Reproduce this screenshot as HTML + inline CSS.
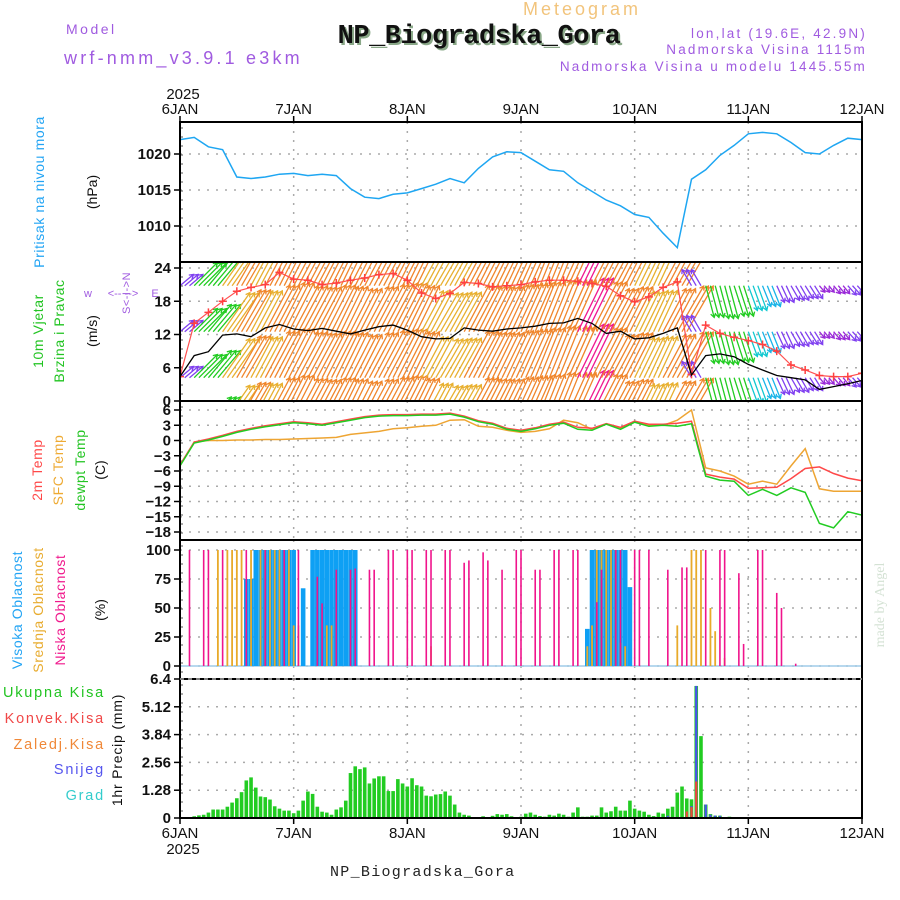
<!DOCTYPE html>
<html><head><meta charset="utf-8">
<style>
html,body{margin:0;padding:0;background:#fff;}
svg{display:block;font-family:"Liberation Sans",sans-serif;}
</style></head>
<body>
<svg id="chart" width="900" height="900" viewBox="0 0 900 900" xmlns="http://www.w3.org/2000/svg">
  <g>
    <text x="582" y="15" font-size="18" fill="#f2c47c" text-anchor="middle" letter-spacing="3">Meteogram</text>
    <text x="481" y="45" font-size="27" font-weight="bold" font-family="Liberation Mono, monospace" fill="#8aa888" text-anchor="middle" letter-spacing="-0.5">NP_Biogradska_Gora</text>
    <text x="479" y="43" font-size="27" font-weight="bold" font-family="Liberation Mono, monospace" fill="#111" text-anchor="middle" letter-spacing="-0.5">NP_Biogradska_Gora</text>
    <text x="66" y="34" font-size="14" fill="#a05be0" letter-spacing="2.5">Model</text>
    <text x="64" y="64" font-size="18" fill="#a05be0" letter-spacing="3.2">wrf-nmm_v3.9.1 e3km</text>
    <text x="867" y="38" font-size="13.5" fill="#a05be0" text-anchor="end" letter-spacing="2.2">lon,lat (19.6E, 42.9N)</text>
    <text x="867" y="54" font-size="13.5" fill="#a05be0" text-anchor="end" letter-spacing="2.2">Nadmorska Visina 1115m</text>
    <text x="867" y="71" font-size="13.5" fill="#a05be0" text-anchor="end" letter-spacing="2.2">Nadmorska Visina u modelu 1445.55m</text>
    <text x="183" y="99" font-size="15" fill="#111" text-anchor="middle">2025</text>
    <text x="330" y="876" font-size="15" font-family="Liberation Mono, monospace" fill="#222" letter-spacing="1.3">NP_Biogradska_Gora</text>
    <text x="183" y="854" font-size="15" fill="#111" text-anchor="middle">2025</text>
    <text transform="translate(884,605) rotate(-90)" font-size="14" font-family="Liberation Serif, serif" fill="#d4e2d4" text-anchor="middle">made by Angel</text>
  </g>
  <g>
    <text transform="translate(44,192) rotate(-90)" font-size="14" fill="#22a4f4" text-anchor="middle" letter-spacing="0.6">Pritisak na nivou mora</text>
    <text transform="translate(97,192) rotate(-90)" font-size="14" fill="#111" text-anchor="middle">(hPa)</text>
    <text transform="translate(43,331) rotate(-90)" font-size="14" fill="#22c422" text-anchor="middle" letter-spacing="0.6">10m Vjetar</text>
    <text transform="translate(64,331) rotate(-90)" font-size="14" fill="#22c422" text-anchor="middle" letter-spacing="0.6">Brzina i Pravac</text>
    <text transform="translate(97,331) rotate(-90)" font-size="14" fill="#111" text-anchor="middle">(m/s)</text>
    <g fill="#a05be0" font-size="11">
      <text x="88" y="297" text-anchor="middle">w</text>
      <text x="155" y="297" text-anchor="middle">E</text>
      <text transform="translate(127,293) rotate(-90)" text-anchor="middle" dominant-baseline="middle" letter-spacing="0.5">S&lt;-I-&gt;N</text>
      <text x="123" y="297" text-anchor="middle">&lt;-- --&gt;</text>
    </g>
    <text transform="translate(42,470) rotate(-90)" font-size="14" fill="#ff4848" text-anchor="middle" letter-spacing="0.6">2m Temp</text>
    <text transform="translate(63,470) rotate(-90)" font-size="14" fill="#eeaa33" text-anchor="middle" letter-spacing="0.6">SFC Temp</text>
    <text transform="translate(85,470) rotate(-90)" font-size="14" fill="#22c422" text-anchor="middle" letter-spacing="0.6">dewpt Temp</text>
    <text transform="translate(105,470) rotate(-90)" font-size="14" fill="#111" text-anchor="middle">(C)</text>
    <text transform="translate(22,610) rotate(-90)" font-size="14" fill="#22a4f4" text-anchor="middle" letter-spacing="0.6">Visoka Oblacnost</text>
    <text transform="translate(43,610) rotate(-90)" font-size="14" fill="#e8ac30" text-anchor="middle" letter-spacing="0.6">Srednja Oblacnost</text>
    <text transform="translate(65,610) rotate(-90)" font-size="14" fill="#f0188c" text-anchor="middle" letter-spacing="0.6">Niska Oblacnost</text>
    <text transform="translate(105,610) rotate(-90)" font-size="14" fill="#111" text-anchor="middle">(%)</text>
    <text x="105" y="697" font-size="14.5" fill="#22c422" text-anchor="end" letter-spacing="1.8">Ukupna  Kisa</text>
    <text x="105" y="723" font-size="14.5" fill="#f04848" text-anchor="end" letter-spacing="1.8">Konvek.Kisa</text>
    <text x="105" y="749" font-size="14.5" fill="#f08838" text-anchor="end" letter-spacing="1.8">Zaledj.Kisa</text>
    <text x="105" y="774" font-size="14.5" fill="#5555ee" text-anchor="end" letter-spacing="1.8">Snijeg</text>
    <text x="105" y="800" font-size="14.5" fill="#33cccc" text-anchor="end" letter-spacing="1.8">Grad</text>
    <text transform="translate(122,750) rotate(-90)" font-size="14" fill="#111" text-anchor="middle" letter-spacing="0.8">1hr Precip (mm)</text>
  </g>
  <g id="plot"></g>
</svg>
<script>
// ---- data ----
const dayLabels = ["6JAN","7JAN","8JAN","9JAN","10JAN","11JAN","12JAN"];
const pressure = [1022,1022.3,1021,1020.6,1016.8,1016.6,1016.8,1017.2,1017.3,1017.0,1017.2,1017.0,1015.2,1014.0,1013.8,1014.4,1014.6,1015.2,1015.8,1016.6,1016.0,1018.0,1019.6,1020.3,1020.2,1019.0,1017.8,1017.6,1016.0,1014.8,1013.6,1012.8,1011.6,1011.2,1009.0,1007.0,1016.5,1017.8,1019.8,1021.2,1022.8,1023.0,1022.8,1021.6,1020.2,1020.0,1021.2,1022.2,1022.0];
const pressureTicks = [1010,1015,1020];
const windSpeed = [4.4,8.2,8.9,11.9,12.1,11.6,13.2,13.8,13.0,12.7,13.1,12.6,12.1,12.8,13.4,13.7,12.8,11.6,11.2,11.3,13.2,12.8,12.6,13.0,13.2,13.5,14.0,14.1,14.9,14.0,12.2,12.6,11.2,11.4,12.2,13.2,4.7,8.2,8.5,8.0,6.6,5.6,4.6,4.2,3.8,2.1,2.6,3.1,3.7];
const windGust = [4.4,14.0,16.0,18.0,19.8,20.5,21.0,23.2,22.0,21.8,21.0,21.3,21.8,22.2,22.8,23.0,21.8,19.5,18.5,19.4,21.4,21.2,20.6,20.8,21.0,21.5,21.8,21.8,21.6,21.2,20.7,19.0,17.9,18.8,20.5,21.5,4.8,13.7,12.2,11.5,10.9,10.2,9.0,6.5,5.6,4.6,4.4,4.4,5.0];
const windDir = [50,45,40,35,30,28,28,27,28,28,27,26,27,28,28,27,26,28,30,29,28,27,26,25,24,22,22,24,26,27,28,27,26,25,28,30,330,165,165,162,160,158,155,150,148,140,140,138,140];
const windRows = [-4.2,4.2,12.5,20.8];
const windTicks = [0,6,12,18,24];
const temp2m = [-4.8,-0.3,0.3,1.0,1.8,2.4,2.9,3.3,3.7,3.5,3.2,3.7,4.2,4.7,5.0,5.1,5.1,5.2,5.2,5.4,4.8,3.9,3.4,2.4,2.0,2.5,3.2,3.6,2.6,2.4,3.3,2.6,3.8,3.2,3.2,3.4,3.8,-6.6,-7.2,-7.6,-9.4,-9.3,-9.2,-7.5,-5.5,-5.2,-6.5,-7.4,-7.9];
const tempSfc = [-5,-0.3,0,0,0.1,0.1,0.2,0.2,0.3,0.4,0.5,0.6,1.2,1.5,1.8,2.3,2.5,2.8,3.0,4.0,4.1,2.8,2.6,2.0,1.6,1.8,2.3,4.0,3.5,2.2,3.3,2.5,3.8,3.0,3.0,4.0,6.0,-5.4,-6.0,-7.0,-8.6,-8.0,-8.6,-5.0,-1.6,-9.5,-10,-10,-10];
const tempDew = [-5,-0.5,0.1,0.8,1.6,2.2,2.7,3.1,3.5,3.3,3.0,3.5,4.0,4.5,4.8,4.9,4.9,5.0,5.0,5.2,4.6,3.7,3.2,2.2,1.8,2.3,3.0,3.4,2.2,2.0,3.2,2.2,3.6,2.8,3.0,2.8,3.3,-7.0,-7.8,-8.0,-10.8,-9.6,-10.8,-9.3,-10.2,-16.3,-17.2,-14.0,-14.7];
const tempTicks = [6,3,0,-3,-6,-9,-12,-15,-18];
const highHours = [14,15,16,17,18,19,20,21,22,23,24,26,28,29,30,31,32,33,34,35,36,37,86,87,88,89,90,91,92,93,94,95];
const highVals  = [75,75,100,100,100,100,100,100,100,100,100,67,100,100,100,100,100,100,100,100,100,100,32,100,100,100,100,100,100,100,100,68];
const midHours = [8,10,11,12,13,15,17,18,19,20,21,23,24,25,31,32,53,86,87,88,89,90,91,92,93,94,105,108,109,110,112,113,115];
const midVals  = [100,100,100,100,100,100,100,100,100,100,100,100,35,35,35,35,17,17,35,100,100,100,100,100,20,17,35,100,100,100,50,30,7];
const lowHours = [2,5,6,9,14,18,22,25,29,30,33,36,37,40,41,44,45,48,49,52,53,56,57,60,61,64,65,68,71,72,75,76,79,80,83,84,88,89,92,93,96,97,99,103,106,107,111,114,115,118,119,122,123,126,127,130];
const lowVals  = [100,100,100,100,100,100,100,100,77,54,83,83,84,83,83,100,100,100,100,100,100,100,100,89,91,98,91,83,100,100,83,83,100,100,100,100,55,83,100,100,100,100,100,83,85,85,100,100,100,80,19,100,100,63,50,2];
const cloudTicks = [0,25,50,75,100];
const precipTotal = [0,0,0,0.08,0.12,0.15,0.25,0.39,0.39,0.39,0.52,0.71,0.91,1.19,1.73,1.87,1.40,0.99,0.96,0.85,0.54,0.43,0.34,0.34,0.22,0.34,0.80,1.22,1.11,0.52,0.29,0.25,0.15,0.39,0.49,0.80,2.07,2.38,2.25,2.33,1.59,1.82,1.92,1.92,1.24,1.24,1.79,1.59,1.45,1.83,1.51,1.45,1.03,1.0,1.08,1.1,1.22,1.03,0.62,0.25,0.15,0.11,0,0,0.08,0,0.1,0.18,0.15,0.18,0.08,0,0.06,0.2,0.25,0.15,0.09,0.06,0.15,0.11,0.2,0.15,0.06,0.25,0.49,0.06,0.06,0.11,0.11,0.49,0.25,0.31,0.52,0.34,0.34,0.8,0.43,0.34,0.29,0.15,0.09,0.25,0.2,0.43,0.52,1.17,1.45,0.9,0.86,6.08,3.77,0.62,0.18,0.11,0.11,0,0.06,0,0,0,0,0,0,0,0,0,0,0,0,0,0,0,0,0,0,0,0,0,0,0,0,0,0,0];
const snowHours = [103,108,109,111,112,113,114];
const snowVals  = [0.1,0.55,6.08,0.62,0.15,0.11,0.1];
const convHours = [107,108,109,112];
const convVals  = [0.3,0.5,1.68,0.05];
const precipTicks = ["0","1.28","2.56","3.84","5.12","6.4"];

// ---- layout ----
const X0 = 180, X1 = 862, HOURS = 144;
const NS = "http://www.w3.org/2000/svg";
const plot = document.getElementById('plot');
function xh(h){ return X0 + (X1 - X0) * h / HOURS; }
function mk(tag, attrs, parent){
  const e = document.createElementNS(NS, tag);
  for (const k in attrs) e.setAttribute(k, attrs[k]);
  (parent || plot).appendChild(e);
  return e;
}
const panels = {
  pres: {top:122, bottom:262, vTop:1020, yTop:154, vBot:1010, yBot:226},
  wind: {top:262, bottom:401, vTop:24, yTop:268, vBot:0, yBot:401},
  temp: {top:401, bottom:540, vTop:6, yTop:410, vBot:-18, yBot:532},
  cloud:{top:540, bottom:679, vTop:100, yTop:550, vBot:0, yBot:666},
  prec: {top:679, bottom:818, vTop:6.4, yTop:679, vBot:0, yBot:818}
};
function yScale(p){ return v => p.yBot + (v - p.vBot) * (p.yTop - p.yBot) / (p.vTop - p.vBot); }
const yP = yScale(panels.pres), yW = yScale(panels.wind), yT = yScale(panels.temp), yC = yScale(panels.cloud), yR = yScale(panels.prec);

const defs = mk('defs', {});
for (const key in panels){
  const p = panels[key];
  const cp = mk('clipPath', {id:'clip-'+key}, defs);
  mk('rect', {x:X0, y:p.top, width:X1-X0, height:p.bottom-p.top}, cp);
}

function panelAxes(key, ticks, labels, ys){
  const p = panels[key];
  const g = mk('g', {});
  
  
  ticks.forEach((t, i) => {
    const y = ys(t);
    if (y > p.top + 2 && y < p.bottom - 2) {
      const l = mk('line', {x1:X0, x2:X1, y1:y, y2:y, stroke:'#aaa', 'stroke-width':1.5, 'stroke-dasharray':'2,7'}, g);
      
      
    }
    mk('line', {x1:X0-6, x2:X0, y1:y, y2:y, stroke:'#000', 'stroke-width':1.5}, g);
    const tx = mk('text', {x:X0-9, y:y+5, 'font-size':15, 'font-weight':'bold', 'text-anchor':'end', fill:'#111'}, g);
    tx.textContent = labels[i];
    
    
  });
  for (let d = 1; d < 6; d++) {
    mk('line', {x1:xh(d*24), x2:xh(d*24), y1:p.top, y2:p.bottom, stroke:'#aaa', 'stroke-width':1.5, 'stroke-dasharray':'2,7'}, g);
  }
  for (let y = p.top + 6; y < p.bottom; y += 9) mk('line', {x1:X0, x2:X0+3, y1:y, y2:y, stroke:'#555', 'stroke-width':1}, g);
}
panelAxes('pres', pressureTicks, pressureTicks.map(String), yP);
panelAxes('wind', windTicks, windTicks.map(String), yW);
panelAxes('temp', tempTicks, tempTicks.map(t => t < 0 ? '\u2212' + (-t) : String(t)), yT);
panelAxes('cloud', cloudTicks, cloudTicks.map(String), yC);
panelAxes('prec', precipTicks.map(Number), precipTicks, yR);

function linePath(arr, ys, step){ return arr.map((v,i) => (i ? 'L' : 'M') + xh(i*step).toFixed(1) + ',' + ys(v).toFixed(1)).join(''); }
const pl = mk('path', {d:linePath(pressure, yP, 3), fill:'none', stroke:'#1ea6f2', 'stroke-width':1.5, 'clip-path':'url(#clip-pres)'});



function windColor(s){
  if (s < 3) return '#9a2ad8';
  if (s < 5) return '#8040f0';
  if (s < 6.5) return '#18b4e8';
  if (s < 8) return '#10c8d0';
  if (s < 9.5) return '#22cc22';
  if (s < 11) return '#9ad82a';
  if (s < 12) return '#e8b030';
  if (s < 14.5) return '#f0862c';
  return '#f01890';
}
const wg = mk('g', {'clip-path':'url(#clip-wind)'});


for (let h = 0; h <= HOURS; h++) {
  const k = Math.min(Math.floor(h/3), windSpeed.length-1);
  const s = windSpeed[k], a = windDir[k] * Math.PI / 180;
  const len = s * 4;
  const col = windColor(s);
  windRows.forEach(r => {
    const x1 = xh(h), y1 = yW(r);
    const ux = Math.sin(a), uy = -Math.cos(a);
    const x2 = x1 + ux*len, y2 = y1 + uy*len;
    const ar = mk('path', {
      d:`M${x1.toFixed(1)},${y1.toFixed(1)}L${x2.toFixed(1)},${y2.toFixed(1)}` +
        `M${(x2 - ux*4 - uy*2.5).toFixed(1)},${(y2 - uy*4 + ux*2.5).toFixed(1)}L${x2.toFixed(1)},${y2.toFixed(1)}L${(x2 - ux*4 + uy*2.5).toFixed(1)},${(y2 - uy*4 - ux*2.5).toFixed(1)}`,
      fill:'none', stroke:col, 'stroke-width':1.3}, wg);
    
    
  });
}
const gl = mk('path', {d:linePath(windGust, yW, 3), fill:'none', stroke:'#ff5050', 'stroke-width':1.2, 'clip-path':'url(#clip-wind)'});


windGust.forEach((v,i) => {
  const x = xh(i*3), y = yW(v);
  const m = mk('path', {d:`M${x-4},${y}H${x+4}M${x},${y-4}V${y+4}`, stroke:'#ff4040', 'stroke-width':1.5, 'clip-path':'url(#clip-wind)'});
  
  
});
const sl = mk('path', {d:linePath(windSpeed, yW, 3), fill:'none', stroke:'#000', 'stroke-width':1.3, 'clip-path':'url(#clip-wind)'});



[[tempSfc,'#eea533','sfc-temp-line'],[temp2m,'#ff4848','temp-2m-line'],[tempDew,'#22cc22','dewpoint-line']].forEach(([arr,c,n]) => {
  const e = mk('path', {d:linePath(arr, yT, 3), fill:'none', stroke:c, 'stroke-width':1.5, 'clip-path':'url(#clip-temp)'});
  
  
});

mk('line', {x1:X0, x2:X1, y1:yC(0), y2:yC(0), stroke:'#9fcbe8', 'stroke-width':1.5});
highHours.forEach((h,i) => {
  const b = mk('rect', {x:xh(h)-2.3, y:yC(highVals[i]), width:4.6, height:yC(0)-yC(highVals[i]), fill:'#0ea0f4'});
  
  
});
midHours.forEach((h,i) => {
  const b = mk('rect', {x:xh(h)-0.9, y:yC(midVals[i]), width:1.8, height:yC(0)-yC(midVals[i]), fill:'#e8aa2a'});
  
  
});
lowHours.forEach((h,i) => {
  const b = mk('rect', {x:xh(h)-0.8, y:yC(lowVals[i]), width:1.6, height:yC(0)-yC(lowVals[i]), fill:'#f0148c'});
  
  
});

precipTotal.forEach((v,h) => {
  if (v <= 0) return;
  const b = mk('rect', {x:xh(h)-1.8, y:yR(v), width:3.6, height:yR(0)-yR(v), fill:'#22cc22'});
  
  
});
snowHours.forEach((h,i) => {
  const v = snowVals[i];
  const b = mk('rect', {x:xh(h)-1.1, y:yR(v), width:2.2, height:yR(0)-yR(v), fill:'#4a50f0'});
  
  
});
convHours.forEach((h,i) => {
  const v = convVals[i];
  const b = mk('rect', {x:xh(h)-1.1, y:yR(v), width:2.2, height:yR(0)-yR(v), fill:'#f04838'});
  
  
});

for (const key in panels){
  const p = panels[key];
  const r = mk('rect', {x:X0, y:p.top, width:X1-X0, height:p.bottom-p.top, fill:'none', stroke:'#000', 'stroke-width':2});
  
  
}
mk('line', {x1:X0, x2:X1, y1:679, y2:679, stroke:'#fff', 'stroke-width':1, 'stroke-dasharray':'4,4'});

dayLabels.forEach((d,i) => {
  const x = xh(i*24);
  mk('line', {x1:x, x2:x, y1:116, y2:122, stroke:'#000', 'stroke-width':1.5});
  mk('line', {x1:x, x2:x, y1:818, y2:824, stroke:'#000', 'stroke-width':1.5});
  const t1 = mk('text', {x:x, y:114, 'font-size':15, 'text-anchor':'middle', fill:'#111'});
  t1.textContent = d;
  
  
  const t2 = mk('text', {x:x, y:838, 'font-size':15, 'text-anchor':'middle', fill:'#111'});
  t2.textContent = d;
  
  
});
</script>
</body></html>
